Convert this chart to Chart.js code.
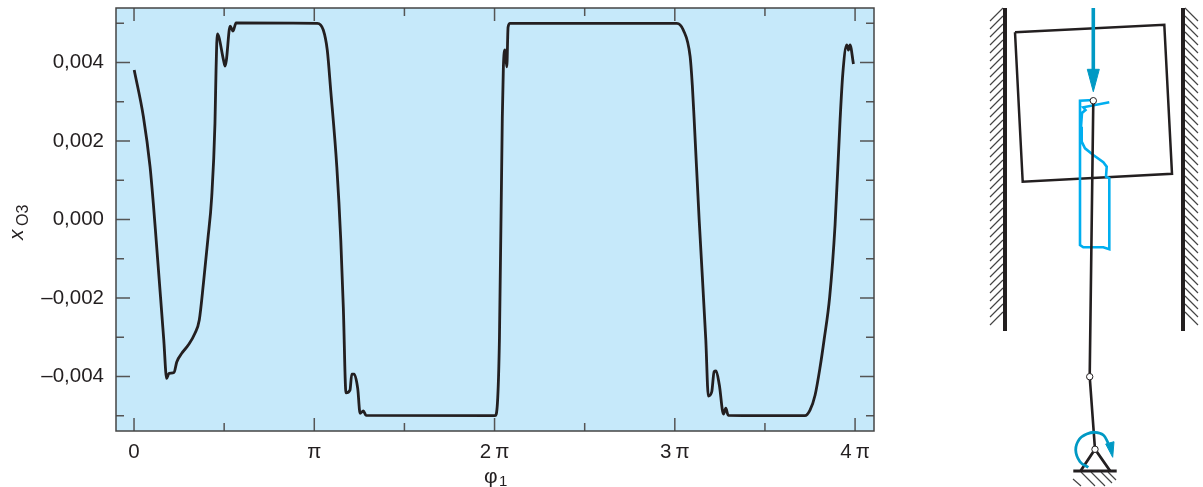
<!DOCTYPE html>
<html>
<head>
<meta charset="utf-8">
<title>x_O3 over phi_1</title>
<script src="https://cdn.jsdelivr.net/npm/chart.js@4/dist/chart.umd.min.js"></script>
<style>
  html, body { margin: 0; padding: 0; background: #fff; overflow: hidden; }
  #wrap { position: relative; width: 1203px; height: 487px; }
  #plot { position: absolute; left: 0; top: 0; }
  #sketch { position: absolute; left: 980px; top: 0; }
</style>
</head>
<body>
<div id="wrap">
  <canvas id="plot" width="900" height="487"></canvas>
  <canvas id="sketch" width="223" height="487"></canvas>
</div>
<script>
// Curve, x in units of pi
const phi = [0.001, 0.052, 0.089, 0.107, 0.123, 0.147, 0.165, 0.181, 0.194, 0.222, 0.237, 0.265, 0.301, 0.338, 0.362,
  0.385, 0.409, 0.431, 0.449, 0.455, 0.462, 0.497, 0.505, 0.512, 0.533, 0.549, 0.566, 1.017, 1.05, 1.072, 1.091, 1.125,
  1.147, 1.161, 1.176, 1.198, 1.208, 1.221, 1.241, 1.254, 1.272, 1.287, 2.003, 2.016, 2.027, 2.043, 2.049, 2.058,
  2.068, 2.075, 2.086, 3.011, 3.047, 3.085, 3.097, 3.107, 3.135, 3.172, 3.186, 3.205, 3.218, 3.229, 3.247, 3.27, 3.283,
  3.296, 3.722, 3.75, 3.778, 3.806, 3.828, 3.859, 3.889, 3.917, 3.932, 3.954, 3.963, 3.972, 3.991];
const xO3 = [0.00381, 0.00262, 0.00134, 0.00041, -0.00053, -0.00197, -0.00307, -0.00405, -0.00392, -0.0039, -0.00363,
  -0.00341, -0.0032, -0.0029, -0.00256, -0.00163, -0.00053, 0.00058, 0.00245, 0.00381, 0.00473, 0.00405, 0.00391, 0.00405,
  0.00493, 0.0048, 0.00501, 0.005, 0.00483, 0.00432, 0.0033, 0.00134, -0.00053, -0.00223, -0.00442, -0.00435, -0.00394,
  -0.00394, -0.00431, -0.00494, -0.00488, -0.00499, -0.005, -0.00468, -0.00307, 0.00258, 0.00389, 0.00432, 0.00389,
  0.0049, 0.005, 0.005, 0.00483, 0.00415, 0.00343, 0.00258, 0, -0.00307, -0.0045, -0.00439, -0.00388, -0.00386, -0.00422,
  -0.00496, -0.00481, -0.00499, -0.005, -0.00486, -0.00448, -0.00376, -0.00307, -0.00198, -0.00014, 0.00255, 0.00372,
  0.00445, 0.00432, 0.00445, 0.00396];

// Axis ticks
const xTickValues = [0, 0.5, 1, 1.5, 2, 2.5, 3, 3.5, 4];
const xTickLabels = ["0", "", "π", "", "2\u2009π", "", "3\u2009π", "", "4\u2009π"];
const yTickValues = [-0.005, -0.004, -0.003, -0.002, -0.001, 0, 0.001, 0.002, 0.003, 0.004, 0.005];
const yTickLabels = ["", "–0,004", "", "–0,002", "", "0,000", "", "0,002", "", "0,004", ""];

// Mechanism sketch, [x, y] in page pixels
const leftWall = [[1005, 8], [1005, 331]];
const rightWall = [[1183, 8], [1183, 331]];
const block = [[1015, 32.3], [1164.3, 24.7], [1172, 173.7], [1022.7, 181.7], [1015, 32.3]];
const rod = [[1093.3, 100.7], [1089.7, 376.7], [1095, 449.3]];
const joints = [[1093.3, 100.7], [1089.7, 376.7], [1095, 449.3]];
const support = [[1080.7, 470.7], [1095, 449.3], [1110, 470.7]];
const ground = [[1073.3, 471], [1116.7, 471]];
const groundHatch = [[1073, 479], [1081, 486], null, [1081, 472], [1095, 486], null, [1091, 472], [1105, 486], null,
  [1101, 472], [1112, 483], null, [1108, 472], [1116, 480]];
const forceShaft = [[1093.3, 8], [1093.3, 72]];
const forceHead = [[1087.3, 69.3], [1099.3, 69.3], [1093.3, 91.7], [1087.3, 69.3]];
const spinArc = [[1088.3, 467.3], [1080, 461.7], [1075.7, 450], [1079.3, 439.3], [1086.7, 434], [1095, 432.3],
  [1103.3, 435], [1108.3, 443.3]];
const spinHead = [[1105.7, 444], [1114, 441.7], [1112.7, 457.3], [1105.7, 444]];
const forceCurve = [[1109.3, 102.3], [1083.3, 107.3], [1085.5, 110], [1082, 113], [1081, 126.7], [1081.7, 141.7],
  [1085, 148.3], [1093.3, 155], [1103.3, 162.3], [1106.7, 166.7], [1106, 176.7], [1109.3, 178.3], [1109.3, 249.3],
  [1103.3, 247.3], [1083.3, 247.3], [1080, 245], [1080, 100.7], [1093.3, 100]];
const wallHatchY = [8, 16, 24, 32, 40, 48, 56, 64, 72, 80, 88, 96, 104, 112, 120, 128, 136, 144, 152, 160, 168, 176, 184,
  192, 200, 208, 216, 224, 232, 240, 248, 256, 264, 272, 280, 288, 296, 304, 312];

const INK = "#231f20";
const BLUE = "#0099c4";
const CYAN = "#00aeef";

const toPts = list => list.map(p => p ? { x: p[0], y: p[1] } : { x: NaN, y: NaN });

// Background, frame, inside ticks and the axis titles of the plot
const framePlugin = {
  id: "frame",
  beforeDraw(chart) {
    const a = chart.chartArea, c = chart.ctx;
    c.save();
    c.fillStyle = "#c6e9fa";
    c.fillRect(a.left, a.top, a.width, a.height);
    c.restore();
  },
  afterDatasetsDraw(chart) {
    const a = chart.chartArea, c = chart.ctx;
    const { x, y } = chart.scales;
    c.save();
    c.strokeStyle = "#555";
    c.lineWidth = 1.5;
    c.beginPath();
    xTickValues.forEach((v, i) => {
      const px = x.getPixelForValue(v), len = i % 2 ? 8 : 13;
      c.moveTo(px, a.bottom); c.lineTo(px, a.bottom - len);
      c.moveTo(px, a.top); c.lineTo(px, a.top + len);
    });
    yTickValues.forEach((v, i) => {
      const py = y.getPixelForValue(v), len = i % 2 ? 14 : 8;
      c.moveTo(a.left, py); c.lineTo(a.left + len, py);
      c.moveTo(a.right, py); c.lineTo(a.right - len, py);
    });
    c.stroke();
    c.strokeStyle = "#444";
    c.strokeRect(a.left, a.top, a.width, a.height);

    // phi 1
    c.fillStyle = INK;
    c.textBaseline = "alphabetic";
    c.font = "21px 'Liberation Sans'";
    c.fillText("φ", 484, 483);
    c.font = "15px 'Liberation Sans'";
    c.fillText("1", 499, 486);

    // x O3, rotated
    c.translate(17, 220);
    c.rotate(-Math.PI / 2);
    c.font = "italic 21px 'Liberation Sans'";
    c.fillText("x", -20, 6);
    c.font = "16px 'Liberation Sans'";
    c.fillText("O3", -6, 11);
    c.restore();
  }
};

new Chart(document.getElementById("plot"), {
  type: "line",
  data: {
    datasets: [{
      data: phi.map((v, i) => ({ x: v, y: xO3[i] })),
      borderColor: INK,
      borderWidth: 2.8,
      pointRadius: 0,
      cubicInterpolationMode: "monotone"
    }]
  },
  options: {
    responsive: false,
    animation: false,
    layout: { autoPadding: false, padding: { top: 8, right: 26 } },
    plugins: { legend: { display: false }, tooltip: { enabled: false } },
    scales: {
      x: {
        type: "linear",
        min: -0.1,
        max: 4.105,
        afterBuildTicks: s => { s.ticks = xTickValues.map(v => ({ value: v })); },
        afterFit: s => { s.height = 56; s.paddingLeft = 0; s.paddingRight = 0; },
        grid: { display: false, drawTicks: false },
        border: { display: false },
        ticks: {
          callback: (v, i) => xTickLabels[i],
          autoSkip: false,
          maxRotation: 0,
          padding: 9,
          color: INK,
          font: { family: "'Liberation Sans'", size: 20.5 }
        }
      },
      y: {
        type: "linear",
        min: -0.00539,
        max: 0.00539,
        afterBuildTicks: s => { s.ticks = yTickValues.map(v => ({ value: v })); },
        afterFit: s => { s.width = 116; s.paddingTop = 0; s.paddingBottom = 0; },
        grid: { display: false, drawTicks: false },
        border: { display: false },
        ticks: {
          callback: (v, i) => yTickLabels[i],
          autoSkip: false,
          padding: 12,
          color: INK,
          font: { family: "'Liberation Sans'", size: 20.5 }
        }
      }
    }
  },
  plugins: [framePlugin]
});

// Sketch: one dataset per part, first one ends up on top
const part = (list, color, width, extra) => Object.assign({
  data: toPts(list),
  borderColor: color,
  borderWidth: width,
  pointRadius: 0,
  tension: 0,
  spanGaps: false,
  fill: false
}, extra);

const hatch = [];
wallHatchY.forEach(y => {
  hatch.push([990, y + 13], [1003, y], null);
  hatch.push([1185, y], [1198, y + 13], null);
});

new Chart(document.getElementById("sketch"), {
  type: "line",
  data: {
    datasets: [
      part(joints, INK, 0, {
        showLine: false,
        pointRadius: 3.2,
        pointBorderWidth: 1,
        pointBackgroundColor: "#fff",
        pointBorderColor: INK
      }),
      part(spinHead, BLUE, 1, { fill: "shape", backgroundColor: BLUE }),
      part(spinArc, BLUE, 2.8, { tension: 0.4 }),
      part(forceHead, BLUE, 1, { fill: "shape", backgroundColor: BLUE }),
      part(forceShaft, BLUE, 3.6),
      part(rod, INK, 2.6),
      part(forceCurve, CYAN, 2.6),
      part(ground, INK, 3),
      part(support, INK, 2.8),
      part(block, INK, 2.5),
      part(rightWall, INK, 4),
      part(leftWall, INK, 4),
      part(groundHatch, "#444", 1.2),
      part(hatch, "#444", 1.2)
    ]
  },
  options: {
    responsive: false,
    animation: false,
    layout: { autoPadding: false },
    plugins: { legend: { display: false }, tooltip: { enabled: false } },
    scales: {
      x: { type: "linear", min: 980, max: 1203, display: false },
      y: { type: "linear", min: 0, max: 487, reverse: true, display: false }
    }
  }
});
</script>
</body>
</html>
